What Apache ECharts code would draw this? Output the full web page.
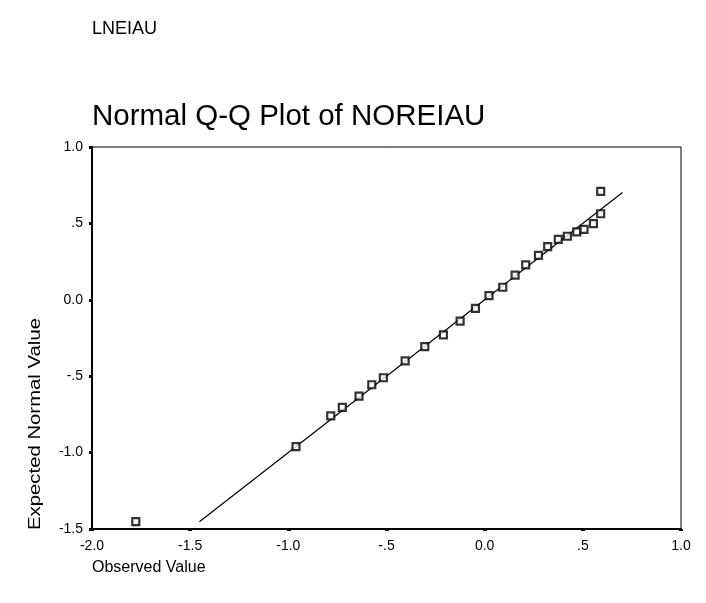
<!DOCTYPE html>
<html>
<head>
<meta charset="utf-8">
<script src="https://cdn.jsdelivr.net/npm/echarts@6/dist/echarts.min.js"></script>
<style>
html,body{margin:0;padding:0;background:#fff;}
#chart{width:706px;height:603px;}
</style>
</head>
<body>
<div id="chart"></div>
<script>
// Observed values (x) and expected normal values (y)
var observed = [-1.777, -0.961, -0.784, -0.725, -0.640, -0.575, -0.516, -0.405, -0.305, -0.210, -0.125, -0.047, 0.022, 0.092, 0.155, 0.209, 0.274, 0.321, 0.375, 0.421, 0.469, 0.506, 0.554, 0.591, 0.591];
var expected = [-1.452, -0.961, -0.760, -0.704, -0.630, -0.556, -0.510, -0.400, -0.307, -0.230, -0.139, -0.056, 0.027, 0.082, 0.162, 0.228, 0.291, 0.348, 0.396, 0.416, 0.444, 0.461, 0.498, 0.563, 0.710];
// Reference line endpoints
var lineX = [-1.453, 0.702];
var lineY = [-1.453, 0.702];
// Tick labels
var xTickLabels = ['-2.0', '-1.5', '-1.0', '-.5', '0.0', '.5', '1.0'];
var yTickLabels = ['-1.5', '-1.0', '-.5', '0.0', '.5', '1.0'];
var xMin = -2, xMax = 1, yMin = -1.5, yMax = 1, step = 0.5;

var pts = observed.map(function (v, i) { return [v, expected[i]]; });
var linePts = lineX.map(function (v, i) { return [v, lineY[i]]; });
var FONT = 'Liberation Sans, Arial, sans-serif';

var chart = echarts.init(document.getElementById('chart'), null, {renderer: 'canvas'});
chart.setOption({
  backgroundColor: '#fff',
  animation: false,
  grid: {left: 92, right: 25, top: 147, bottom: 74, show: true, borderColor: '#000', borderWidth: 1, backgroundColor: 'transparent'},
  xAxis: {
    type: 'value', min: xMin, max: xMax, interval: step,
    axisLine: {show: true, onZero: false, lineStyle: {color: '#000', width: 2}},
    axisTick: {show: true, length: 2, lineStyle: {color: '#000', width: 4}},
    splitLine: {show: false},
    axisLabel: {
      color: '#000', fontFamily: FONT, fontSize: 14, margin: 10,
      formatter: function (v) { return xTickLabels[Math.round((v - xMin) / step)]; }
    }
  },
  yAxis: {
    type: 'value', min: yMin, max: yMax, interval: step,
    axisLine: {show: true, onZero: false, lineStyle: {color: '#000', width: 2}},
    axisTick: {show: true, length: 3, lineStyle: {color: '#000', width: 3}},
    splitLine: {show: false},
    axisLabel: {
      color: '#000', fontFamily: FONT, fontSize: 14, margin: 9,
      formatter: function (v) { return yTickLabels[Math.round((v - yMin) / step)]; }
    }
  },
  graphic: [
    {type: 'text', x: 92, y: 29, style: {text: 'LNEIAU', font: '18px ' + FONT, fill: '#000', textVerticalAlign: 'middle'}},
    {type: 'text', x: 92, y: 117, style: {text: 'Normal Q-Q Plot of NOREIAU', font: '29.5px ' + FONT, fill: '#000', textVerticalAlign: 'middle'}},
    {type: 'text', x: 92, y: 568, style: {text: 'Observed Value', font: '16px ' + FONT, fill: '#000', textVerticalAlign: 'middle'}},
    {type: 'text', x: 36, y: 424, rotation: Math.PI / 2, scaleX: 1.27, style: {text: 'Expected Normal Value', font: '16px ' + FONT, fill: '#000', textAlign: 'center', textVerticalAlign: 'middle'}}
  ],
  series: [
    {
      type: 'line', data: linePts, symbol: 'none', silent: true,
      lineStyle: {color: '#000', width: 1.2}, z: 2
    },
    {
      type: 'scatter', data: pts, symbol: 'rect', symbolSize: 7,
      itemStyle: {color: '#fff', borderColor: '#000', borderWidth: 2.2}, z: 3
    }
  ]
});
</script>
</body>
</html>
